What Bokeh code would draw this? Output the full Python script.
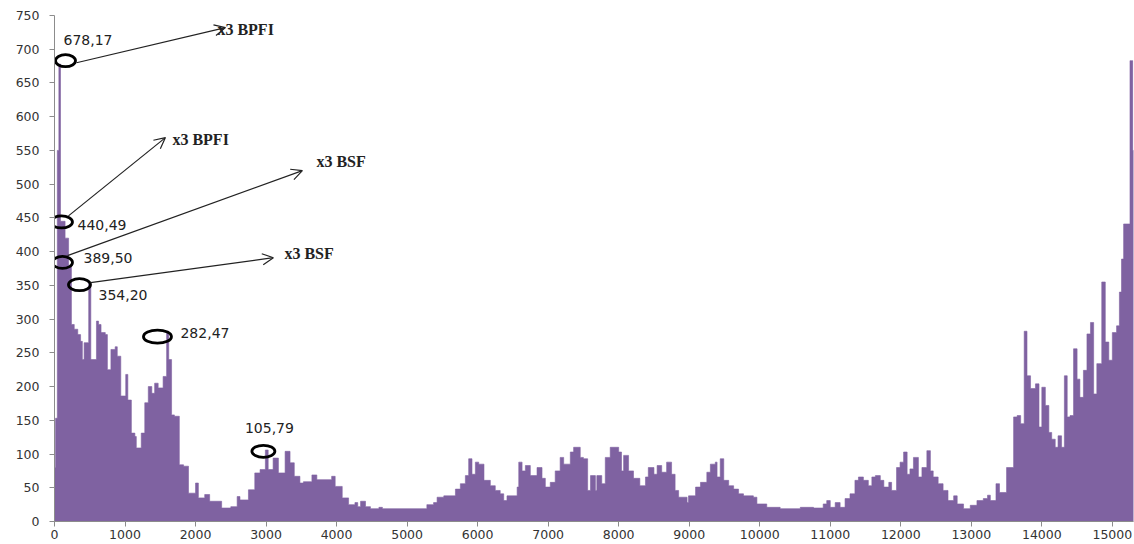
from bokeh.plotting import figure
from bokeh.models import Range1d, FixedTicker, Arrow, OpenHead, ColumnDataSource
from bokeh.core.properties import value
from bokeh.embed import file_html
from bokeh.resources import INLINE

# ---- spectrum envelope (bin start frequency, Hz -> amplitude) ----
freq_hz = [0, 15, 40, 62, 85, 150, 200, 240, 280, 330, 370, 395, 420, 485, 515, 595,
           625, 660, 720, 750, 800, 860, 890, 940, 1010, 1040, 1090, 1140, 1160, 1230,
           1280, 1330, 1380, 1420, 1470, 1540, 1590, 1620, 1660, 1700, 1770, 1830, 1900,
           2000, 2040, 2130, 2200, 2370, 2500, 2590, 2630, 2750, 2840, 2915, 2990, 3030,
           3100, 3175, 3270, 3340, 3400, 3480, 3530, 3650, 3720, 3930, 3980, 4080, 4170,
           4260, 4300, 4340, 4410, 4480, 4600, 4650, 5280, 5375, 5425, 5520, 5685, 5755,
           5826, 5873, 5920, 5968, 6015, 6090, 6180, 6250, 6320, 6370, 6416, 6560, 6583,
           6630, 6677, 6747, 6842, 6913, 6960, 7030, 7100, 7170, 7220, 7314, 7361, 7455,
           7500, 7560, 7600, 7670, 7690, 7760, 7810, 7880, 8000, 8040, 8070, 8140, 8210,
           8300, 8380, 8420, 8500, 8545, 8610, 8680, 8750, 8800, 8850, 8970, 8990, 9090,
           9160, 9250, 9300, 9370, 9395, 9440, 9490, 9560, 9630, 9700, 9770, 9910, 9960,
           10100, 10290, 10575, 10763, 10900, 10950, 11000, 11070, 11140, 11210, 11280,
           11350, 11400, 11470, 11540, 11590, 11640, 11710, 11760, 11830, 11870, 11940,
           11990, 12040, 12090, 12130, 12180, 12250, 12300, 12370, 12420, 12460, 12530,
           12600, 12670, 12750, 12800, 12890, 12985, 13080, 13170, 13230, 13270, 13350,
           13400, 13500, 13600, 13650, 13700, 13750, 13790, 13840, 13910, 13960, 14000,
           14050, 14100, 14140, 14190, 14230, 14280, 14320, 14360, 14400, 14450, 14500,
           14540, 14590, 14640, 14690, 14735, 14780, 14850, 14900, 14950, 15000, 15060,
           15100, 15130, 15160, 15250, 15290]
amplitude = [80, 153, 550, 678, 445, 420, 378, 292, 285, 277, 267, 240, 265, 354, 240, 297,
             292, 280, 277, 225, 255, 259, 245, 186, 218, 180, 131, 126, 109, 131,
             176, 200, 190, 205, 198, 215, 282, 240, 158, 156, 84, 82, 42,
             57, 35, 40, 30, 20, 22, 37, 32, 47, 72, 77, 106, 77,
             94, 72, 104, 87, 67, 57, 59, 69, 62, 67, 52, 35, 25,
             28, 22, 30, 22, 19, 21, 19, 25, 28, 36, 38, 48, 56,
             68, 93, 70, 88, 85, 61, 53, 46, 41, 31, 38, 51, 88,
             75, 83, 68, 80, 64, 51, 58, 75, 95, 85, 103, 110, 95,
             93, 46, 68, 46, 68, 56, 95, 110, 103, 75, 98, 75, 64,
             53, 66, 80, 70, 83, 73, 88, 70, 46, 36, 28, 38, 51,
             58, 73, 85, 88, 66, 93, 61, 53, 48, 41, 38, 36, 26,
             21, 19, 21, 20, 26, 31, 21, 28, 21, 34, 41,
             61, 66, 61, 53, 66, 68, 61, 51, 58, 46, 80,
             88, 103, 70, 78, 95, 66, 80, 105, 75, 66, 56,
             46, 31, 38, 26, 19, 24, 31, 34, 39, 31, 56,
             43, 80, 155, 157, 145, 282, 216, 197, 204, 140, 199,
             172, 132, 122, 110, 127, 110, 216, 155, 157, 256, 211,
             184, 224, 278, 295, 189, 234, 355, 266, 239, 280, 290,
             340, 389, 441, 683, 550]
freq_end = 15300

x_ticks = list(range(0, 15001, 1000))
y_ticks = list(range(0, 751, 50))

# ---- annotated peaks ----
peak_labels = ["678,17", "440,49", "389,50", "354,20", "282,47", "105,79"]
circle_f = [156, 99, 113, 354, 1460, 2962]
circle_a = [683, 444, 384, 351, 274, 104]
circle_w = [20, 22, 20, 22, 28, 23]
circle_h = [12, 12, 12, 12, 13, 12]
label_f = [128, 326, 411, 624, 1786, 2700]
label_a = [713, 439, 390, 335, 280, 138]

harm_labels = ["x3 BPFI", "x3 BPFI", "x3 BSF", "x3 BSF"]
arrow_f0 = [312, 198, 184, 510]
arrow_a0 = [680, 453, 394, 354]
arrow_f1 = [2424, 1573, 3515, 3104]
arrow_a1 = [732, 569, 520, 391]
harm_f = [2310, 1672, 3714, 3260]
harm_a = [729, 566, 533, 397]

FILL = "#7F62A1"

p = figure(width=1134, height=544, output_backend="svg", toolbar_location=None,
           x_range=Range1d(0, freq_end), y_range=Range1d(0, 750),
           min_border_left=54, min_border_right=1, min_border_top=15, min_border_bottom=23)
p.outline_line_color = None
p.xgrid.grid_line_color = None
p.ygrid.grid_line_color = None
p.background_fill_color = "white"
p.border_fill_color = "white"

# step envelope polygon
edges = freq_hz + [freq_end]
xs, ys = [edges[0]], [0]
for i, a in enumerate(amplitude):
    xs += [edges[i], edges[i + 1]]
    ys += [a, a]
xs.append(edges[-1]); ys.append(0)
p.patch(xs, ys, fill_color=FILL, line_color=FILL, line_width=0.6)

# axes styling
for ax in (p.xaxis[0], p.yaxis[0]):
    ax.axis_line_color = "#8C8C8C"
    ax.major_tick_line_color = "#8C8C8C"
    ax.minor_tick_line_color = None
    ax.major_tick_in = 0
    ax.major_tick_out = 5
    ax.major_label_text_font = "DejaVu Sans"
    ax.major_label_text_font_size = "12.5px"
    ax.major_label_text_color = "#333333"
p.xaxis.ticker = FixedTicker(ticks=x_ticks)
p.yaxis.ticker = FixedTicker(ticks=y_ticks)
p.xaxis.major_label_standoff = 3
p.yaxis.major_label_standoff = 10

# circles
csrc = ColumnDataSource(dict(x=circle_f, y=circle_a, w=circle_w, h=circle_h))
p.ellipse(x="x", y="y", width="w", height="h", width_units="screen", height_units="screen",
          source=csrc, fill_color=None, line_color="black", line_width=2.8)

# peak value labels
p.text(x=label_f, y=label_a, text=peak_labels, text_font=value("DejaVu Sans"),
       text_font_size="14px", text_color="#222222", text_baseline="middle", text_align="left")

# arrows to harmonic labels
for x0, y0, x1, y1 in zip(arrow_f0, arrow_a0, arrow_f1, arrow_a1):
    p.add_layout(Arrow(end=OpenHead(size=11, line_color="#222222", line_width=1.2),
                       x_start=x0, y_start=y0, x_end=x1, y_end=y1,
                       line_color="#222222", line_width=1.2))

p.text(x=harm_f, y=harm_a, text=harm_labels, text_font=value("Liberation Serif"),
       text_font_size="16px", text_font_style="bold", text_color="#222222",
       text_baseline="middle", text_align="left")

open("out.html", "w").write(file_html(p, INLINE))
